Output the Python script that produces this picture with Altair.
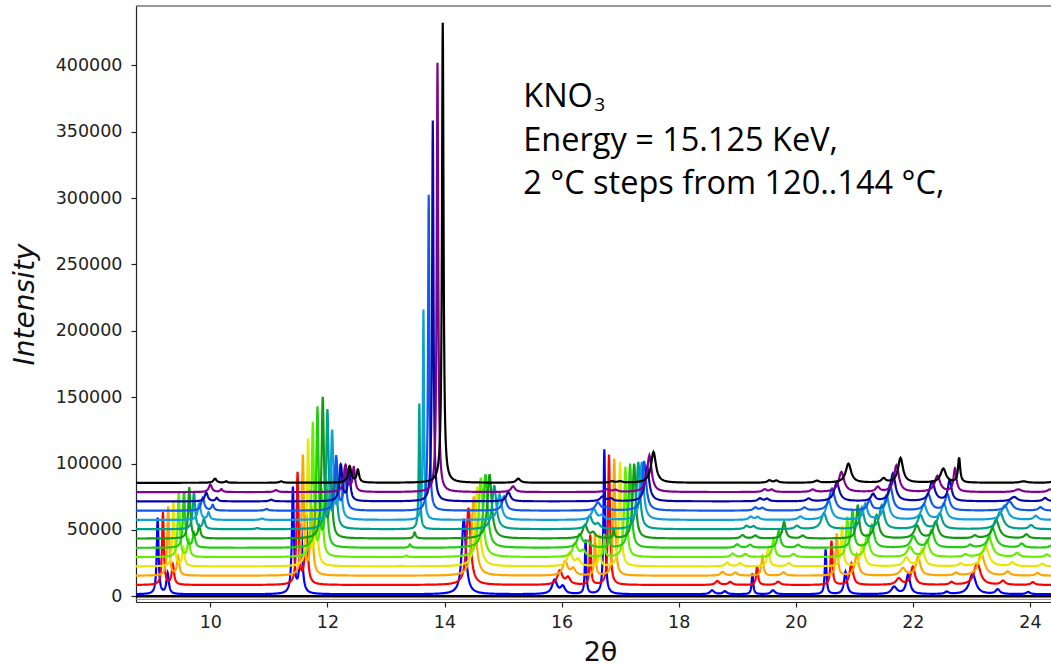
import numpy as np
import pandas as pd
import altair as alt

# Temperature series (2 °C steps), drawn bottom to top with a vertical offset
TEMPS = [120, 122, 124, 126, 128, 130, 132, 134, 136, 138, 140, 142, 144]
COLORS = ["#0000ff", "#ff0000", "#ffa500", "#e6e600", "#66ee00", "#22cc11",
          "#129a12", "#00a088", "#10a0d8", "#1058f0", "#0808a8", "#800090", "#000000"]
BASELINES = [1500, 8500, 15500, 22500, 29500, 36500, 43500,
             50500, 57500, 64500, 71500, 78500, 85500]

N = None  # reflection absent at that temperature

# Reflection families: centre (2θ), height above the trace baseline, half-width
A1_POS = [9.10, 9.19, 9.28, 9.37, 9.46, 9.55, 9.64, 9.72, 9.81, 9.87, 9.93, 10.00, 10.08]
A1_H = [57500, 54700, 52000, 49500, 48500, 42500, 38500, 28000, 12300, 9800, 6600, 5600, 3100]
A1_W = [0.018, 0.018, 0.019, 0.019, 0.02, 0.021, 0.022, 0.024, 0.03, 0.032, 0.032, 0.032, 0.032]

A2_POS = [9.27, 9.36, 9.45, 9.54, 9.63, 9.72, 9.81, 9.89, 9.97, 10.04, 10.11, 10.19, 10.27]
A2_H = [15600, 14800, 14100, 13400, 12700, 11000, 9200, 7500, 5500, 4200, 2500, 2100, 1100]
A2_W = 0.024

A3_POS = [N, N, N, N, N, N, N, 10.80, 10.88, 10.96, 11.04, 11.12, 11.21]
A3_H = [0, 0, 0, 0, 0, 0, 0, 800, 1000, 1200, 1300, 1500, 1100]
A3_W = 0.035

B1_POS = [11.41, 11.49, 11.58, 11.67, 11.75, 11.83, 11.92, 12.00, 12.08, 12.15, 12.23, 12.31, 12.38]
B1_H = [79600, 83900, 89900, 95000, 100500, 105300, 105300, 89000, 66700, 40900, 27100, 20100, 12400]
B1_W = [0.02, 0.02, 0.021, 0.022, 0.022, 0.023, 0.024, 0.024, 0.025, 0.027, 0.029, 0.031, 0.033]

B2_POS = [11.55, 11.64, 11.73, 11.81, 11.90, 11.98, 12.06, 12.14, 12.22, 12.30, 12.37, 12.45, 12.52]
B2_H = [51400, 51200, 50500, 50000, 50000, 49500, 49000, 46000, 40000, 32000, 24000, 18000, 9400]
B2_W = 0.025

C_POS = [N, N, N, 13.26, 13.35, 13.41, 13.49, 13.57, 13.64, 13.73, 13.80, 13.88, 13.97]
C_H = [0, 0, 0, 500, 1200, 2500, 4500, 94600, 158400, 238000, 286900, 323400, 346500]
C_W = [0.02, 0.02, 0.02, 0.022, 0.022, 0.022, 0.022, 0.012, 0.012, 0.013, 0.014, 0.015, 0.016]

D_POS = [14.33, 14.41, 14.50, 14.56, 14.62, 14.70, 14.77, 14.85, 14.94, 15.02, 15.09, 15.17, 15.26]
D_H = [57000, 58300, 59800, 60300, 59900, 55400, 48400, 33100, 19300, 10800, 7000, 4300, 3100]
D_W = 0.042

E_POS = [15.88, 15.97, 16.06, 16.14, 16.23, 16.31, 16.40, 16.48, 16.55, 16.62, 16.70, 16.78, 16.86]
E_H = [10500, 10600, 10500, 10300, 10200, 10000, 9900, 9800, 8000, 6000, 3500, 2000, 1000]
E_W = 0.05

E2_POS = [16.02, 16.11, 16.20, 16.28, 16.37, 16.45, 16.54, 16.62, 16.69, 16.76, 16.84, 16.92, 17.00]
E2_H = [5500, 5200, 5000, 4800, 4500, 4200, 4000, 3500, 3000, 2500, 2000, 1500, 1000]
E2_W = 0.045

G_POS = [16.41, 16.49, 16.57, 16.65, 16.73, 16.81, 16.89, N, N, N, N, N, N]
G_H = [40700, 37400, 31000, 24000, 17000, 11000, 6000, 0, 0, 0, 0, 0, 0]
G_W = 0.014

F_POS = [16.73, 16.81, 16.90, 17.00, 17.09, 17.17, 17.24, 17.31, 17.37, 17.41, 17.46, 17.50, 17.57]
F_H = [109000, 98200, 88200, 78600, 67900, 63400, 56400, 50600, 43600, 37400, 25900, 27700, 23200]
F_W = [0.017, 0.019, 0.02, 0.022, 0.025, 0.028, 0.031, 0.034, 0.037, 0.04, 0.045, 0.045, 0.05]

H1_POS = [18.57, 18.66, 18.75, 18.83, 18.92, 19.00, 19.09, 19.16, 19.23, 19.31, 19.39, 19.47, 19.55]
H1_H = [3000, 3000, 2800, 2800, 2600, 2600, 2500, 2500, 2400, 2300, 2200, 2000, 1800]
H1_W = 0.04

H2_POS = [18.79, 18.88, 18.97, 19.05, 19.14, 19.22, 19.31, 19.28, 19.35, 19.43, 19.51, 19.59, 19.67]
H2_H = [2200, 2300, 2300, 2300, 2300, 2300, 2200, 2200, 2100, 2000, 1900, 1800, 1600]
H2_W = 0.04

I_POS = [19.26, 19.34, 19.43, 19.53, 19.62, 19.71, 19.80, N, N, N, N, N, N]
I_H = [15600, 14300, 14100, 13900, 13400, 13200, 12500, 0, 0, 0, 0, 0, 0]
I_W = [0.016, 0.019, 0.022, 0.025, 0.028, 0.03, 0.032, 0.03, 0.03, 0.03, 0.03, 0.03, 0.03]

I2_POS = [19.61, 19.70, 19.79, 19.88, 19.96, 20.04, 20.12, N, N, N, N, N, N]
I2_H = [3000, 2500, 2500, 2400, 2300, 2200, 2100, 0, 0, 0, 0, 0, 0]
I2_W = 0.04

U1_POS = [N, N, N, N, N, N, N, 20.02, 20.08, 20.15, 20.22, 20.29, 20.36]
U1_H = [0, 0, 0, 0, 0, 0, 0, 2500, 2500, 2200, 2000, 1800, 1500]
U1_W = 0.045

J1_POS = [20.51, 20.61, 20.70, 20.79, 20.88, 20.97, 21.06, 21.13, 21.19, 21.26, 21.32, 21.40, 21.50]
J1_H = [33600, 33200, 31700, 30200, 30200, 28300, 25000, 16000, 12000, 7800, 5300, 3600, 3100]
J1_W = [0.016, 0.018, 0.02, 0.022, 0.024, 0.026, 0.028, 0.04, 0.04, 0.04, 0.04, 0.04, 0.04]

J2_POS = [20.85, 20.95, 21.04, 21.14, 21.22, 21.30, 21.38, 21.47, 21.55, 21.61, 21.66, 21.72, 21.79]
J2_H = [16800, 16100, 16000, 16200, 16500, 17000, 17500, 18000, 18500, 19500, 20900, 20100, 18600]
J2_W = [0.03, 0.035, 0.038, 0.04, 0.042, 0.044, 0.046, 0.048, 0.05, 0.05, 0.05, 0.05, 0.05]

K_POS = [N, N, N, N, N, N, N, 20.48, 20.56, 20.62, 20.70, 20.78, 20.90]
K_H = [0, 0, 0, 0, 0, 0, 0, 12000, 14800, 16600, 13800, 15100, 14400]
K_W = 0.055

M1_POS = [21.68, 21.76, 21.83, 21.89, 21.95, 22.01, 22.07, 22.13, 22.19, 22.26, 22.33, 22.42, 22.52]
M1_H = [5500, 4800, 5500, 6500, 7500, 8500, 9500, 10500, 11500, 12500, 14600, 12100, 10600]
M1_W = 0.055

M2_POS = [21.92, 22.00, 22.09, 22.16, 22.24, 22.32, 22.39, 22.46, 22.53, 22.59, 22.63, 22.72, 22.79]
M2_H = [14800, 13600, 14100, 13400, 12700, 13200, 12500, 11800, 12300, 12300, 15800, 17600, 18600]
M2_W = [0.04, 0.042, 0.044, 0.046, 0.048, 0.05, 0.05, 0.05, 0.05, 0.045, 0.038, 0.03, 0.022]

N1_POS = [22.58, 22.66, 22.74, 22.82, 22.90, 22.98, 23.06, N, N, N, N, N, N]
N1_H = [1700, 2000, 2000, 2000, 2000, 2000, 2000, 0, 0, 0, 0, 0, 0]
N1_W = 0.04

O_POS = [23.02, 23.10, 23.17, 23.24, 23.30, 23.36, 23.42, 23.49, 23.57, 23.65, 23.73, 23.80, 23.89]
O_H = [15600, 16600, 16500, 16000, 15500, 15000, 14000, 13000, 11000, 7000, 3300, 2000, 1100]
O_W = 0.065

P_POS = [23.45, 23.54, 23.62, 23.70, 23.78, 23.86, 23.94, 24.02, 24.10, 24.18, 24.26, 24.34, 24.42]
P_H = [3500, 3000, 3000, 3000, 3000, 3000, 3000, 3000, 3000, 2500, 2500, 2000, 2000]
P_W = 0.045

Q_POS = [23.97, 24.05, 24.13, 24.21, 24.29, 24.37, N, N, N, N, N, N, N]
Q_H = [1700, 2000, 2000, 2000, 2000, 2000, 0, 0, 0, 0, 0, 0, 0]
Q_W = 0.04

FAMILIES = [
    (A1_POS, A1_H, A1_W), (A2_POS, A2_H, A2_W), (A3_POS, A3_H, A3_W),
    (B1_POS, B1_H, B1_W), (B2_POS, B2_H, B2_W), (C_POS, C_H, C_W),
    (D_POS, D_H, D_W), (E_POS, E_H, E_W), (E2_POS, E2_H, E2_W),
    (G_POS, G_H, G_W), (F_POS, F_H, F_W), (H1_POS, H1_H, H1_W),
    (H2_POS, H2_H, H2_W), (I_POS, I_H, I_W), (I2_POS, I2_H, I2_W),
    (U1_POS, U1_H, U1_W), (J1_POS, J1_H, J1_W), (J2_POS, J2_H, J2_W),
    (K_POS, K_H, K_W), (M1_POS, M1_H, M1_W), (M2_POS, M2_H, M2_W),
    (N1_POS, N1_H, N1_W), (O_POS, O_H, O_W), (P_POS, P_H, P_W),
    (Q_POS, Q_H, Q_W),
]

# Reference lines below the stack
REF_LEVELS = [0, -2300]
REF_COLORS = ["#000000", "#c8785a"]
REF_WIDTHS = [2.5, 1.0]

X_TICKS = [10, 12, 14, 16, 18, 20, 22, 24]
Y_TICKS = [0, 50000, 100000, 150000, 200000, 250000, 300000, 350000, 400000]
X_DOMAIN = [8.73, 24.36]
Y_DOMAIN = [-4300, 444700]

NOTE_LINES = ["KNO", "Energy = 15.125 KeV,", "2 °C steps from 120..144 °C,"]
NOTE_X = 15.345
NOTE_Y = [368400, 335300, 303200]

W, H = 915, 596


def profile(x, c, h, w):
    return h / (1.0 + ((x - c) / w) ** 2)


labels = [f"{t} °C" for t in TEMPS]
frames = []
base_grid = np.arange(X_DOMAIN[0], X_DOMAIN[1] + 1e-9, 0.01)
for i, lab in enumerate(labels):
    peaks = []
    for pos, hts, wid in FAMILIES:
        if pos[i] is None or hts[i] <= 0:
            continue
        w = wid[i] if isinstance(wid, list) else wid
        peaks.append((pos[i], hts[i], w))
    parts = [base_grid]
    for c, h, w in peaks:
        parts.append(c + np.arange(-6 * w, 6 * w + 1e-9, w / 4))
        parts.append(np.array([c]))
    x = np.unique(np.round(np.concatenate(parts), 4))
    x = x[(x >= X_DOMAIN[0]) & (x <= X_DOMAIN[1])]
    y = np.full(x.shape, float(BASELINES[i]))
    for c, h, w in peaks:
        y += profile(x, c, h, w)
    frames.append(pd.DataFrame({"two_theta": x, "intensity": np.round(y), "series": lab}))
curves = pd.concat(frames, ignore_index=True)

xscale = alt.Scale(domain=X_DOMAIN, nice=False, zero=False)
yscale = alt.Scale(domain=Y_DOMAIN, nice=False, zero=False)

x_axis = alt.Axis(values=X_TICKS, format="d", title="2θ", grid=False, labelPadding=6,
                  titleX=464, titleY=58, titleAlign="center", titleBaseline="alphabetic",
                  titleFont="DejaVu Sans", titleFontSize=27, titleFontWeight="normal",
                  titleColor="#111111")
y_axis = alt.Axis(values=Y_TICKS, format="d", title="Intensity", grid=False, labelPadding=9,
                  titleX=-103, titleY=298, titleAngle=270, titleAlign="center",
                  titleBaseline="alphabetic", titleFont="DejaVu Sans", titleFontSize=28,
                  titleFontStyle="italic", titleFontWeight="normal", titleColor="#111111")

refs = pd.DataFrame({"level": REF_LEVELS, "color": REF_COLORS, "width": REF_WIDTHS})
ref_layer = alt.Chart(refs).mark_rule().encode(
    y=alt.Y("level:Q", scale=yscale, axis=y_axis),
    color=alt.Color("color:N", scale=None, legend=None),
    strokeWidth=alt.StrokeWidth("width:Q", scale=None, legend=None),
)

lines = alt.Chart(curves).mark_line(strokeWidth=2.2, clip=True, interpolate="linear").encode(
    x=alt.X("two_theta:Q", scale=xscale, axis=x_axis),
    y=alt.Y("intensity:Q", scale=yscale, axis=y_axis),
    color=alt.Color("series:N", scale=alt.Scale(domain=labels, range=COLORS), legend=None),
)

top_frame = alt.Chart(pd.DataFrame({"level": [Y_DOMAIN[1]]})).mark_rule(
    color="#333333", strokeWidth=1.2).encode(y=alt.Y("level:Q", scale=yscale))

notes = pd.DataFrame({"x": [NOTE_X] * 3, "y": NOTE_Y, "text": NOTE_LINES})
note_layer = alt.Chart(notes).mark_text(
    align="left", baseline="alphabetic", font="Open Sans", fontSize=32.5, color="#000000"
).encode(x=alt.X("x:Q", scale=xscale), y=alt.Y("y:Q", scale=yscale), text="text:N")

# chemical subscript of the formula, set just after "KNO"
sub = pd.DataFrame({"x": [NOTE_X], "y": [NOTE_Y[0]], "text": ["3"]})
sub_layer = alt.Chart(sub).mark_text(
    align="left", baseline="alphabetic", font="Open Sans", fontSize=19, color="#000000",
    dx=71, dy=4
).encode(x=alt.X("x:Q", scale=xscale), y=alt.Y("y:Q", scale=yscale), text="text:N")

chart = alt.layer(ref_layer, lines, top_frame, note_layer, sub_layer).properties(
    width=W, height=H,
    padding={"left": 136, "top": 6, "right": 0, "bottom": 67},
    autosize=alt.AutoSizeParams(type="none"),
).configure_view(stroke=None).configure_axis(
    domainColor="#222222", domainWidth=1.2, tickColor="#222222", tickWidth=1.2,
    tickSize=5, labelFont="DejaVu Sans", labelFontSize=17.5, labelColor="#222222",
)

chart.save("out.html", embed_options={"renderer": "svg", "actions": False})
